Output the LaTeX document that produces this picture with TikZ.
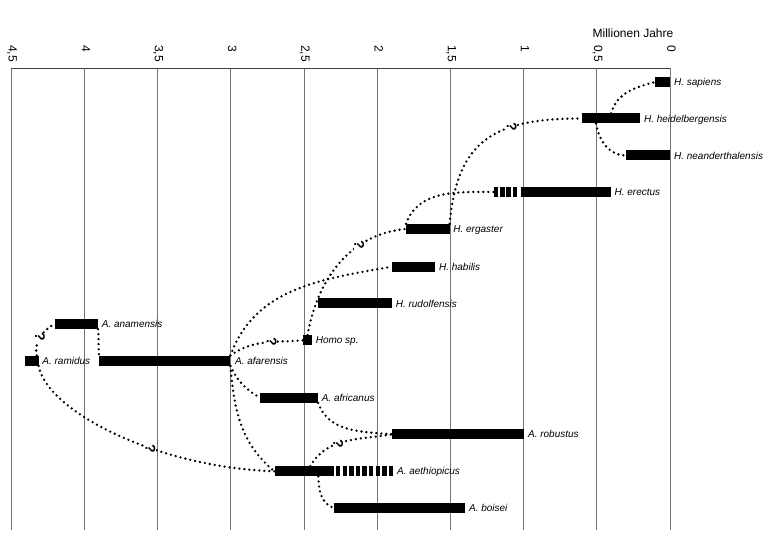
\documentclass[tikz,border=0pt]{standalone}
\usepackage{fontspec}
\setmainfont{Liberation Sans}
\begin{document}
\begin{tikzpicture}[x=1pt,y=1pt,
  gridline/.style={draw=black!55, line width=0.8pt},
  axisline/.style={draw=black!75, line width=0.9pt},
  bar/.style={rectangle, fill=black, inner sep=0pt, minimum height=10pt, anchor=west},
  dashbar/.style={rectangle, inner sep=0pt, minimum height=10pt, anchor=west},
  dashfill/.style={line width=10pt, dash pattern=on #1},
  lab/.style={anchor=base west, inner sep=0pt, font=\fontsize{10}{12}\selectfont\itshape},
  ticklab/.style={anchor=mid west, inner sep=0pt, rotate=-90, font=\fontsize{12}{14}\selectfont},
  dots/.style={line width=2.6pt, dash pattern=on 0pt off 5pt, line cap=round},
  qm/.style={font=\fontsize{14}{14}\selectfont\bfseries, rotate=-90, inner sep=0.3pt, fill=white}
]
\useasboundingbox (0,0) rectangle (771,-537);

% grid
\foreach \t/\s [count=\i] in {0/0,0.5/{0,5},1/1,1.5/{1,5},2/2,2.5/{2,5},3/3,3.5/{3,5},4/4,4.5/{4,5}}{
  \coordinate (gt\i) at ({670-146.4*\t},-68);
  \coordinate (gb\i) at ({670-146.4*\t},-530);
  \draw[gridline] (gt\i) -- (gb\i);
  \node[ticklab] (tl\i) at ({670-146.4*\t},-45) {\s};
}
\draw[axisline] (gt10) -- (gt1);
\node[anchor=base east, inner sep=0pt, font=\fontsize{12}{14}\selectfont] (title) at (673.5,-37.3) {Millionen Jahre};

% bars
\node[bar, minimum width=15pt] (sap) at (655,-82) {};
\node[bar, minimum width=58pt] (hei) at (582,-118.5) {};
\node[bar, minimum width=44pt] (nea) at (626,-155.5) {};
\node[dashbar, minimum width=23pt] (ered) at (494,-192) {};
\node[bar, minimum width=90pt] (ere) at (520.5,-192) {};
\node[bar, minimum width=43.3pt] (erg) at (406,-229) {};
\node[bar, minimum width=43.3pt] (hab) at (391.7,-266.7) {};
\node[bar, minimum width=73.7pt] (rud) at (318,-303.5) {};
\node[bar, minimum width=8.7pt] (hsp) at (303,-340.3) {};
\node[bar, minimum width=131pt] (afa) at (99,-360.7) {};
\node[bar, minimum width=14pt] (ram) at (24.3,-360.7) {};
\node[bar, minimum width=43.4pt] (ana) at (54.3,-324) {};
\node[bar, minimum width=57.7pt] (afr) at (260,-397.7) {};
\node[bar, minimum width=132.3pt] (rob) at (391.7,-434.3) {};
\node[bar, minimum width=59.7pt] (aet) at (274.3,-471.3) {};
\node[dashbar, minimum width=57pt] (aetd) at (336,-471.3) {};
\node[bar, minimum width=131.7pt] (boi) at (333.3,-507.7) {};
\draw[dashfill={4.3pt off 1.9pt}] (ered.west) -- (ered.east);
\draw[dashfill={4.4pt off 2.2pt}] (aetd.west) -- (aetd.east);

% labels
\node[lab] (sapL) at ([shift={(3.5,-3.6)}]sap.east) {H. sapiens};
\node[lab] (heiL) at ([shift={(3.5,-3.6)}]hei.east) {H. heidelbergensis};
\node[lab] (neaL) at ([shift={(3.5,-3.6)}]nea.east) {H. neanderthalensis};
\node[lab] (ereL) at ([shift={(3.5,-3.6)}]ere.east) {H. erectus};
\node[lab] (ergL) at ([shift={(3.5,-3.6)}]erg.east) {H. ergaster};
\node[lab] (habL) at ([shift={(3.5,-3.6)}]hab.east) {H. habilis};
\node[lab] (rudL) at ([shift={(3.5,-3.6)}]rud.east) {H. rudolfensis};
\node[lab] (hspL) at ([shift={(3.5,-3.6)}]hsp.east) {Homo sp.};
\node[lab] (afaL) at ([shift={(4.5,-3.6)}]afa.east) {A. afarensis};
\node[lab] (ramL) at ([shift={(3.5,-3.6)}]ram.east) {A. ramidus};
\node[lab] (anaL) at ([shift={(3.5,-3.6)}]ana.east) {A. anamensis};
\node[lab] (afrL) at ([shift={(3.5,-3.6)}]afr.east) {A. africanus};
\node[lab] (robL) at ([shift={(3.5,-3.6)}]rob.east) {A. robustus};
\node[lab] (aetL) at ([shift={(3.5,-3.6)}]aetd.east) {A. aethiopicus};
\node[lab] (boiL) at ([shift={(3.5,-3.6)}]boi.east) {A. boisei};

% connectors
\draw[dots] (hei.north) to[out=75, in=195] (sap.west);
\draw[dots] ([xshift=14pt]hei.south west) to[out=-80, in=180] (nea.west);
\draw[dots] (erg.north east) to[out=85, in=180, looseness=1.3] node[qm, pos=0.67] (q1) {?} (hei.west);
\draw[dots] (erg.north west) to[out=70, in=180] (ered.west);
\draw[dots] (hsp.north) to[out=80, in=185] node[qm, pos=0.68] (q2) {?} (erg.west);
\draw[dots] (afa.north east) to[out=70, in=190] (hab.west);
\draw[dots] (afa.north east) to[out=35, in=185] node[qm, pos=0.6] (q3) {?} (hsp.west);
\draw[dots] (afa.south east) to[out=-65, in=150] (afr.west);
\draw[dots] (afa.south east) to[out=-85, in=140] (aet.west);
\draw[dots] (afr.south east) to[out=-70, in=175] (rob.west);
\draw[dots] ([xshift=6pt]aet.north) to[out=60, in=190] node[qm, pos=0.42] (q4) {?} (rob.west);
\draw[dots] ([xshift=14pt]aet.south) to[out=-88, in=160] (boi.west);
\draw[dots] ([xshift=-2pt]ram.north east) to[out=100, in=210] node[qm, pos=0.5] (q5) {?} (ana.west);
\draw[dots] (ram.south east) to[out=-80, in=178, out distance=45pt, in distance=120pt] node[qm, pos=0.63] (q6) {?} (aet.west);
\draw[dots] (ana.south east) to[out=-85, in=95] (afa.north west);
\end{tikzpicture}
\end{document}
